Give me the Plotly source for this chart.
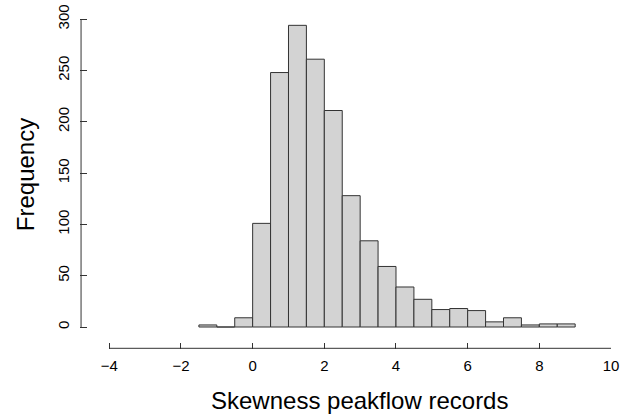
import plotly.graph_objects as go

# Histogram data (bin width 0.5)
bin_left_edges = [-1.5, -1.0, -0.5, 0.0, 0.5, 1.0, 1.5, 2.0, 2.5, 3.0, 3.5,
                  4.0, 4.5, 5.0, 5.5, 6.0, 6.5, 7.0, 7.5, 8.0, 8.5]
counts = [2, 0, 9, 101, 248, 294, 261, 211, 128, 84, 59,
          39, 27, 17, 18, 16, 5, 9, 2, 3, 3]
bin_width = 0.5
x_ticks = [-4, -2, 0, 2, 4, 6, 8, 10]
y_ticks = [0, 50, 100, 150, 200, 250, 300]
x_title = "Skewness peakflow records"
y_title = "Frequency"

centers = [e + bin_width / 2 for e in bin_left_edges]

fig = go.Figure(go.Bar(
    x=centers, y=counts, width=bin_width,
    marker=dict(color="#D3D3D3", line=dict(color="#333333", width=1)),
))

font = "Liberation Sans, Arial, sans-serif"
fig.update_layout(
    width=621, height=414,
    margin=dict(l=80, r=10, t=0, b=65, autoexpand=False),
    plot_bgcolor="white", paper_bgcolor="white",
    showlegend=False,
    font=dict(family=font, color="black", size=15),
    xaxis=dict(
        range=[-4.818, 10.0], tickvals=x_ticks, ticks="inside", ticklen=6,
        tickcolor="#333333", showgrid=False, zeroline=False, showline=False,
        tickfont=dict(size=15), automargin=False, ticklabelstandoff=6,
    ),
    yaxis=dict(
        range=[-21.44, 318.7], tickvals=y_ticks, ticks="inside", ticklen=7,
        tickcolor="#333333", showgrid=False, zeroline=False, showline=False,
        tickangle=-90, tickfont=dict(size=15), automargin=False, ticklabelstandoff=7,
        title=dict(text=y_title, font=dict(size=24), standoff=13),
    ),
    annotations=[
        dict(text=x_title, xref="paper", yref="paper", x=0.5273, y=0,
             xanchor="center", yanchor="middle", yshift=-51, showarrow=False,
             font=dict(size=24)),
    ],
    shapes=[
        dict(type="line", xref="x", yref="paper", x0=x_ticks[0], x1=x_ticks[-1],
             y0=0.002, y1=0.002, line=dict(color="#333333", width=1)),
        dict(type="line", xref="paper", yref="y", x0=0.002, x1=0.002,
             y0=y_ticks[0], y1=y_ticks[-1], line=dict(color="#333333", width=1)),
    ],
)

fig.write_html("out.html", config={"displayModeBar": False},
               post_script="document.body.style.margin='0';")
